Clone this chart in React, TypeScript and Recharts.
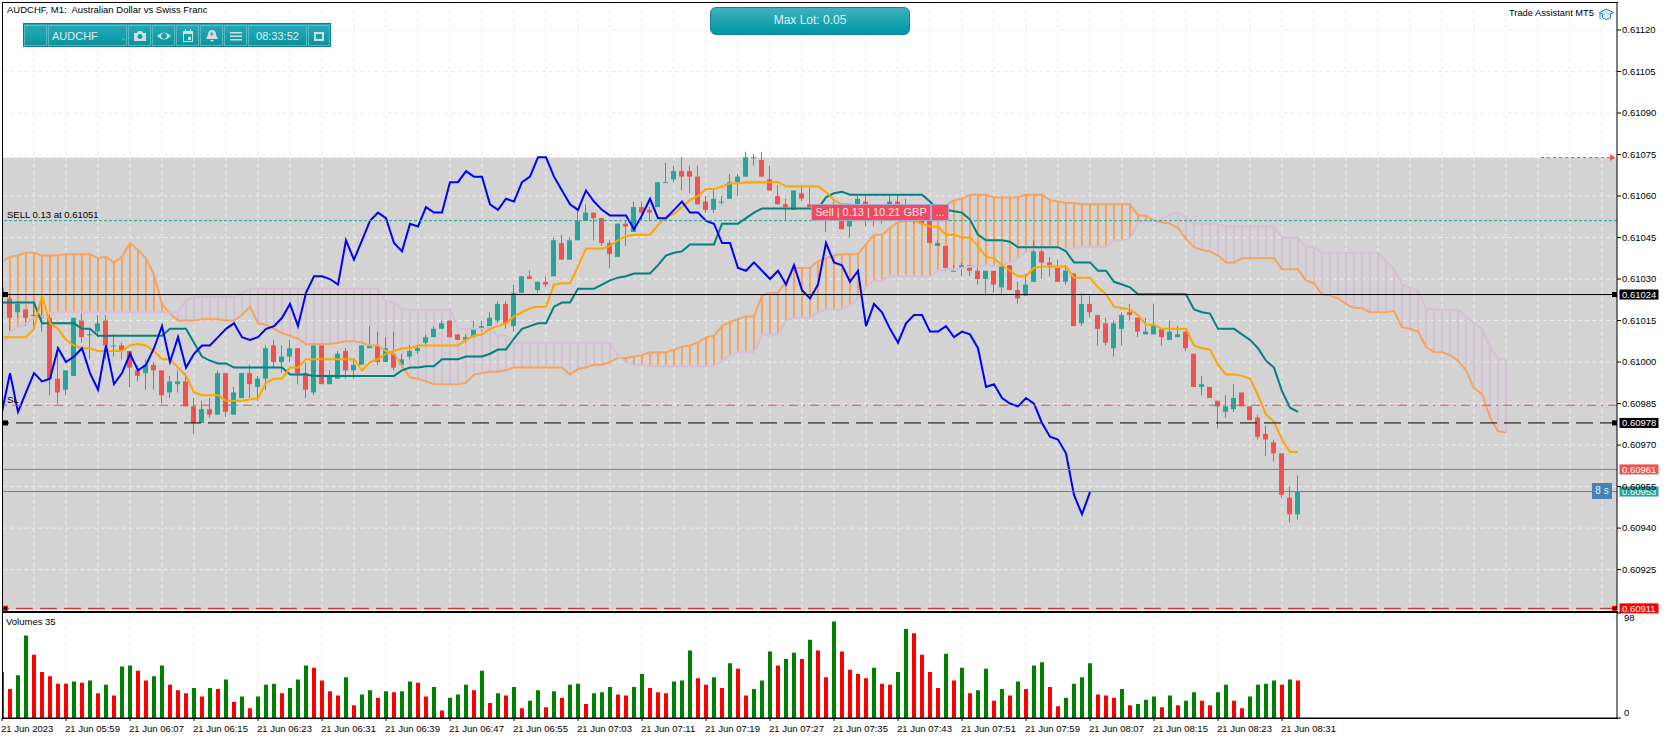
import React from 'react';
import {
  Bar,
  CartesianGrid,
  Cell,
  ComposedChart,
  Line,
  ReferenceArea,
  ReferenceDot,
  ReferenceLine,
  XAxis,
  YAxis,
} from 'recharts';

// all price series are in points above 0.60900 (1 point = 0.00001)
const BASE = 0.609;

const open = [
  127, 123, 118, 119, 117, 116, 116, 94, 90, 95,
  115, 110, 111, 115, 106, 106, 104, 97, 96, 99,
  97, 89, 92, 93, 84, 78, 83, 81, 96, 81,
  87, 96, 91, 94, 106, 100, 102, 105, 96, 89,
  106, 92, 94, 104, 97, 99, 105, 106, 100, 103,
  99, 102, 104, 107, 109, 112, 115, 110, 108, 109,
  112, 113, 115, 121, 113, 125, 131, 126, 129, 131,
  143, 137, 144, 151, 154, 152, 143, 138, 150, 147,
  156, 155, 156, 165, 166, 169, 169, 167, 158, 155,
  158, 159, 165, 167, 174, 173, 166, 160, 157, 155,
  161, 157, 156, 151, 152, 151, 149, 153, 158, 153,
  152, 155, 158, 156, 154, 152, 151, 142, 142, 133,
  134, 135, 133, 130, 133, 127, 135, 126, 124, 129,
  140, 136, 134, 129, 132, 114, 121, 117, 114, 105,
  112, 118, 116, 110, 110, 112, 108, 109, 111, 103,
  91, 91, 86, 82, 83, 89, 84, 80, 74, 71,
  67, 51, 45,
];
const high = [
  127, 125, 122, 119, 122, 124, 117, 105, 97, 116,
  118, 112, 117, 117, 110, 107, 104, 99, 101, 100,
  97, 95, 97, 96, 87, 86, 87, 97, 96, 91,
  96, 99, 95, 106, 108, 106, 108, 105, 100, 106,
  106, 97, 104, 105, 101, 106, 113, 111, 109, 111,
  103, 106, 106, 110, 113, 115, 115, 110, 110, 115,
  115, 118, 122, 122, 128, 131, 133, 129, 131, 145,
  146, 145, 155, 157, 154, 152, 144, 150, 151, 158,
  158, 156, 165, 172, 171, 174, 171, 171, 160, 162,
  160, 168, 168, 176, 175, 176, 171, 164, 159, 162,
  164, 163, 157, 155, 158, 153, 155, 160, 160, 156,
  156, 160, 160, 159, 155, 154, 153, 144, 142, 135,
  136, 135, 135, 133, 133, 135, 135, 129, 132, 144,
  142, 138, 137, 135, 132, 125, 124, 117, 116, 115,
  118, 121, 116, 116, 121, 112, 115, 113, 111, 103,
  95, 91, 86, 88, 92, 89, 84, 81, 77, 72,
  67, 55, 59,
];
const low = [
  124, 111, 116, 113, 112, 111, 88, 85, 88, 95,
  107, 101, 109, 101, 102, 101, 91, 93, 90, 90,
  85, 87, 89, 84, 74, 78, 80, 81, 80, 81,
  87, 87, 86, 90, 98, 96, 100, 92, 87, 88,
  92, 92, 94, 94, 94, 99, 105, 99, 100, 97,
  98, 101, 103, 106, 109, 112, 109, 108, 107, 109,
  111, 113, 114, 112, 111, 125, 130, 125, 127, 131,
  137, 137, 144, 151, 144, 142, 134, 138, 142, 147,
  151, 151, 156, 165, 165, 162, 161, 157, 154, 154,
  157, 159, 160, 167, 171, 167, 162, 157, 151, 155,
  158, 156, 152, 147, 151, 148, 145, 152, 149, 149,
  150, 154, 153, 153, 150, 150, 143, 142, 133, 133,
  131, 131, 128, 124, 125, 124, 126, 121, 124, 129,
  130, 131, 129, 128, 113, 113, 116, 106, 106, 102,
  106, 115, 109, 110, 110, 106, 108, 109, 104, 91,
  88, 87, 76, 80, 82, 84, 79, 72, 66, 64,
  51, 42, 43,
];
const close = [
  124, 116, 121, 116, 117, 117, 94, 89, 97, 116,
  109, 110, 114, 106, 106, 104, 98, 95, 99, 97,
  88, 93, 93, 84, 78, 83, 81, 96, 82, 89,
  96, 92, 94, 105, 100, 102, 105, 96, 90, 106,
  92, 95, 103, 97, 99, 106, 106, 100, 105, 98,
  101, 104, 105, 109, 112, 114, 109, 108, 109, 112,
  113, 116, 121, 114, 125, 131, 130, 129, 128, 144,
  137, 144, 151, 154, 152, 143, 139, 150, 149, 156,
  154, 154, 165, 165, 169, 167, 167, 157, 155, 159,
  158, 165, 167, 174, 174, 167, 162, 157, 156, 162,
  159, 156, 153, 153, 153, 148, 151, 159, 152, 152,
  155, 158, 154, 154, 151, 150, 143, 143, 134, 133,
  135, 133, 130, 133, 128, 135, 126, 123, 128, 140,
  136, 135, 129, 133, 113, 121, 118, 112, 107, 114,
  117, 117, 111, 111, 113, 109, 111, 110, 105, 91,
  92, 87, 84, 84, 87, 84, 79, 73, 72, 67,
  52, 45, 53,
];

const tenkan = [
  109, 109, 109, 109, 112, 124, 114, 112, 108, 106,
  105, 105, 104, 104, 104, 104, 106, 106.5, 106, 104,
  101, 101, 98, 95, 89, 88, 88, 88, 86, 86,
  86, 86.5, 87, 92.5, 94, 94, 98, 98, 101, 101,
  101, 101, 101, 101, 101, 97, 100, 101, 103, 104,
  105, 105, 106, 106, 106, 106, 106, 106, 108, 109.5,
  110, 112, 113, 114, 116.5, 118, 119.5, 120, 120, 128,
  128.5, 128.5, 134.5, 141, 141, 141, 142, 144, 145.5, 146,
  146, 146, 149.5, 152.5, 153.5, 156, 158.5, 160, 162.5, 162.5,
  163.5, 164.5, 164.5, 165, 165, 165, 165, 165, 163.5, 163.5,
  163.5, 163.5, 163.5, 161.5, 158.5, 157, 157, 156, 156, 155,
  155, 154, 153, 152, 151, 150, 149, 149, 146, 146,
  145, 145, 142, 138, 137.5, 135, 133, 131, 131, 134,
  134.5, 134.5, 134.5, 134.5, 130.5, 130.5, 130.5, 127, 124.5, 120,
  119.5, 119, 117, 113.5, 113.5, 112, 112, 112, 112, 106,
  105, 104.5, 99, 95.5, 95.5, 95, 94, 88, 81, 78.5,
  72, 67.5, 67.5,
];
const kijun = [
  121.5, 121.5, 121.5, 121.5, 121.5, 114, 114, 114, 114, 114,
  112, 112, 109.5, 109.5, 109.5, 109.5, 109.5, 109.5, 109.5, 109.5,
  109.5, 112, 112, 112, 107, 102, 100.5, 99.5, 99.5, 98,
  98, 98, 98, 98, 98, 98, 95.5, 95.5, 95.5, 95,
  95, 95, 95, 95, 95, 95, 95, 95, 95, 95,
  97, 98, 98, 98.5, 98.5, 101, 101, 101, 102, 102,
  102, 103, 104.5, 104.5, 108.5, 112, 113, 114, 114, 120,
  121.5, 121.5, 126.5, 126.5, 126.5, 128, 129.5, 130.5, 131, 132,
  132, 132, 135, 138.5, 139.5, 140, 142.5, 142.5, 142.5, 142.5,
  150, 150, 150, 152, 154, 155.5, 155.5, 155.5, 155.5, 155.5,
  155.5, 155.5, 155.5, 159.5, 161, 161.5, 160.5, 160.5, 160.5, 160.5,
  160.5, 160.5, 160.5, 160.5, 160.5, 160.5, 158, 155, 155, 154.5,
  154, 151.5, 146, 144, 144, 144, 143.5, 141.5, 141.5, 141.5,
  141.5, 141.5, 141.5, 140, 136, 136, 136, 133, 133, 129,
  128, 127, 124.5, 124.5, 124.5, 124.5, 124.5, 124.5, 124.5, 119,
  118, 117.5, 112, 112, 112, 110, 108, 105, 100.5, 98,
  89.5, 83.5, 82,
];
const chikou = [
  82, 96, 82, 89, 96, 93, 94, 105, 100, 102,
  105, 96, 90, 106, 92, 96, 103, 97, 99, 105,
  113, 100, 109, 98, 103, 106, 106, 109, 112, 114,
  109, 108, 109, 112, 113, 116, 121, 113, 125, 131,
  131, 130, 128, 144, 137, 144, 151, 154, 152, 143,
  140, 150, 149, 156, 154, 154, 165, 165, 169, 167,
  167, 157, 155, 159, 158, 165, 167, 174, 174, 167,
  162, 157, 155, 162, 158, 155, 153, 153, 153, 148,
  153, 159, 152, 152, 155, 158, 154, 154, 151, 150,
  143, 143, 134, 133, 136, 133, 130, 133, 128, 135,
  126, 123, 128, 143, 136, 135, 129, 133, 113, 121,
  118, 112, 107, 114, 117, 117, 111, 111, 113, 109,
  111, 110, 105, 91, 92, 87, 85, 84, 87, 85,
  78, 73, 72, 67, 52, 45, 53,
];
const spanA = [
  136.5, 138, 138.5, 139.5, 139.5, 138.5, 138.5, 138.5, 139, 139,
  139, 139, 137.5, 138, 136, 138, 143, 140.5, 137.5, 131.5,
  121, 117.5, 115, 115, 115, 115.5, 115.5, 115.5, 115, 115,
  117, 120, 114, 113.5, 112, 110.5, 109.5, 108.5, 106.5, 106.5,
  106.5, 106.5, 107, 107.5, 107.5, 107, 106, 106, 104, 103,
  98.5, 94.5, 94, 93, 92, 92, 92, 92, 92.5, 95.5,
  96, 96.5, 96.5, 97, 98, 98, 98, 98, 98, 98,
  98, 95.5, 97.5, 98, 99, 99, 100, 101.5, 101.5, 102,
  102.5, 103.5, 103.5, 103.5, 104.5, 105.5, 106, 107, 109, 109.5,
  113, 114.5, 115.5, 116.5, 116.5, 124, 125, 125, 129, 134,
  134, 134, 136.5, 137.5, 138.5, 139, 139, 139, 142.5, 146,
  146, 148.5, 150.5, 151, 151, 151.5, 154.5, 155, 156.5, 158.5,
  159, 160.5, 160.5, 160.5, 159.5, 159.5, 159.5, 159.5, 160.5, 160.5,
  160.5, 158.5, 158, 157.5, 157.5, 157, 157, 157, 157, 157,
  157, 157, 153, 153, 151, 150.5, 150, 148.5, 144.5, 141.5,
  140.5, 140, 138.5, 136, 136, 137.5, 137.5, 137.5, 137.5, 137.5,
  133.5, 133.5, 133.5, 129.5, 128.5, 124.5, 124, 123, 121, 119.5,
  119.5, 118, 118, 118, 118.5, 112.5, 112, 111, 105.5, 103.5,
  103.5, 102.5, 100.5, 97, 90.5, 88.5, 80, 75, 74.5,
];
const spanB = [
  105.5, 111, 112.5, 114, 116, 116.5, 117.5, 118, 118, 118,
  118, 118, 118, 118, 118, 118, 118, 118, 118, 118,
  118, 118, 118, 122.5, 123.5, 123.5, 123.5, 123.5, 123.5, 123.5,
  125, 126.5, 126.5, 126.5, 126.5, 126.5, 126.5, 126.5, 126.5, 126.5,
  126.5, 126.5, 126.5, 126.5, 126.5, 126.5, 126.5, 126.5, 122, 121.5,
  119, 119, 119, 119, 119, 119, 119, 112, 112, 112,
  112, 112, 109.5, 109.5, 107, 107, 107, 107, 107, 107,
  107, 107, 107, 107, 107, 107, 107, 102, 100, 99,
  99, 98.5, 98.5, 98.5, 98.5, 98.5, 98.5, 98.5, 98.5, 98.5,
  100.5, 102.5, 103.5, 103.5, 103.5, 110, 110, 110, 115, 116,
  116, 116, 118, 119, 119, 119, 120.5, 123, 127, 129.5,
  129.5, 131, 131, 131, 131, 131, 131, 133, 133.5, 133.5,
  134, 134.5, 134.5, 135, 134.5, 135, 136, 137.5, 140, 141,
  141, 141, 141, 141, 141, 141.5, 141.5, 141.5, 141.5, 144,
  144, 144.5, 150.5, 151, 151, 151.5, 153.5, 154, 152.5, 150,
  150, 150, 150, 149, 149, 149, 149, 149, 149, 149,
  145, 145, 145, 141.5, 141.5, 139.5, 139.5, 139.5, 139.5, 139.5,
  139.5, 139.5, 139.5, 136.5, 133.5, 128, 127, 125.5, 119.5, 119,
  119, 119, 119, 116.5, 114, 112, 105.5, 101, 101,
];
const volume = [
  43, 27, 40, 77, 59, 43, 39, 32, 32, 34, 33, 35, 23, 31, 21, 48, 49, 44, 35, 39,
  49, 31, 26, 23, 28, 20, 28, 27, 36, 15, 20, 9, 20, 31, 32, 23, 28, 36, 49, 47,
  35, 25, 21, 38, 12, 22, 26, 19, 25, 24, 25, 34, 33, 20, 29, 7, 19, 22, 31, 26,
  44, 14, 23, 21, 29, 9, 16, 26, 10, 25, 19, 31, 32, 13, 23, 24, 29, 22, 21, 29,
  41, 28, 24, 23, 34, 35, 63, 37, 31, 38, 28, 51, 46, 21, 27, 35, 62, 49, 55, 61,
  55, 73, 63, 38, 90, 62, 45, 41, 37, 47, 32, 31, 43, 83, 79, 59, 43, 28, 60, 35,
  47, 23, 26, 46, 16, 27, 21, 34, 27, 49, 52, 29, 11, 19, 32, 38, 51, 22, 21, 19,
  27, 12, 13, 17, 20, 10, 21, 12, 16, 24, 16, 12, 24, 31, 16, 9, 20, 31, 32, 35,
  31, 36, 35,
];

const priceTicks = [220, 205, 190, 175, 160, 145, 130, 115, 100, 85, 70, 55, 40, 25];
const timeTickBars = [
  0, 8, 16, 24, 32, 40, 48, 56, 64, 72, 80, 88, 96, 104, 112, 120, 128, 136, 144, 152, 160,
];
const timeTickLabels = [
  '21 Jun 2023', '21 Jun 05:59', '21 Jun 06:07', '21 Jun 06:15', '21 Jun 06:23', '21 Jun 06:31',
  '21 Jun 06:39', '21 Jun 06:47', '21 Jun 06:55', '21 Jun 07:03', '21 Jun 07:11', '21 Jun 07:19',
  '21 Jun 07:27', '21 Jun 07:35', '21 Jun 07:43', '21 Jun 07:51', '21 Jun 07:59', '21 Jun 08:07',
  '21 Jun 08:15', '21 Jun 08:23', '21 Jun 08:31',
];
const gridBars = Array.from({ length: 51 }, (_, k) => k * 4);
const volumeTicks = [0, 98];

const price = (p: number) => BASE + p / 100000;
const label5 = (v: number) => v.toFixed(5);

const rows = spanA.map((a, i) => ({
  i,
  open: i < open.length ? price(open[i]) : undefined,
  high: i < open.length ? price(high[i]) : undefined,
  low: i < open.length ? price(low[i]) : undefined,
  close: i < open.length ? price(close[i]) : undefined,
  wick: i < open.length ? [price(low[i]), price(high[i])] : undefined,
  tenkan: i < tenkan.length ? price(tenkan[i]) : undefined,
  kijun: i < kijun.length ? price(kijun[i]) : undefined,
  chikou: i < chikou.length ? price(chikou[i]) : undefined,
  spanA: price(a),
  spanB: price(spanB[i]),
  cloud: [price(Math.min(a, spanB[i])), price(Math.max(a, spanB[i]))],
}));
const volumeRows = volume.map((v, i) => ({ i, v }));

const UP = '#26a69a';
const DOWN = '#ef5350';
const FONT = '"Liberation Sans", Arial, sans-serif';
const X_DOMAIN: [number, number] = [0.125, 201.875];
const Y_DOMAIN: [number, number] = [price(10.4), price(229.75)];

const Candle = (props: any) => {
  const { x, y, width, height, payload } = props;
  if (payload.open === undefined) return null;
  const k = height / (payload.high - payload.low);
  const top = y + (payload.high - Math.max(payload.open, payload.close)) * k;
  const bottom = y + (payload.high - Math.min(payload.open, payload.close)) * k;
  const up = payload.close >= payload.open;
  const color = up ? UP : DOWN;
  const cx = x + width / 2;
  return (
    <g>
      <line x1={cx} x2={cx} y1={y} y2={y + height} stroke={color} strokeWidth={1} />
      <rect x={cx - 2.5} y={top} width={5} height={Math.max(bottom - top, 1)} fill={color} />
    </g>
  );
};

const PriceFlag = (props: any) => {
  const { viewBox, text, fill, color, square, squareStroke } = props;
  const right = viewBox.x + viewBox.width;
  const y = viewBox.y;
  return (
    <g>
      {square && <rect x={viewBox.x + 0.5} y={y - 2} width={4} height={4} fill="#000" stroke={squareStroke || '#000'} />}
      {square && <rect x={right - 4.5} y={y - 2} width={4} height={4} fill="#000" stroke={squareStroke || '#000'} />}
      <rect x={right + 2.5} y={y - 5} width={39} height={10} fill={fill} />
      <text x={right + 5} y={y + 3.5} fill={color} fontSize={9.5} fontFamily={FONT}>{text}</text>
    </g>
  );
};

const LineCaption = (props: any) => {
  const { viewBox, text, dx, dy } = props;
  return (
    <text x={viewBox.x + dx} y={viewBox.y + dy} fill="#000" fontSize={9.5} fontFamily={FONT}>{text}</text>
  );
};

const TriangleDot = (props: any) => {
  const { cx, cy } = props;
  return <path d={`M${cx - 3} ${cy - 3.5}L${cx + 2} ${cy}L${cx - 3} ${cy + 3.5}Z`} fill={DOWN} />;
};

const TimeTick = (props: any) => {
  const { x, y, index } = props;
  return (
    <text x={x - 1} y={y + 9} fill="#000" fontSize={9.5} fontFamily={FONT}>{timeTickLabels[index]}</text>
  );
};

const VolumeTick = (props: any) => {
  const { x, y, payload } = props;
  return (
    <text x={x + 1} y={payload.value === 0 ? y - 2 : y + 8} fill="#000" fontSize={9.5} fontFamily={FONT}>{payload.value}</text>
  );
};

const toolCell = (left: number, width: number, child: React.ReactNode, key: string) => (
  <div
    key={key}
    style={{
      position: 'absolute',
      left,
      top: 1,
      width,
      height: 21,
      border: '1px solid #58b8c4',
      boxSizing: 'border-box',
      color: '#e3eef0',
      fontFamily: FONT,
      fontSize: 11,
      lineHeight: '20px',
      textAlign: 'center',
    }}
  >
    {child}
  </div>
);

const Icon = ({ d }: { d: string }) => (
  <svg width={14} height={14} viewBox="0 0 14 14" style={{ marginTop: 3 }}>
    <path d={d} fill="#d8dcdc" fillRule="evenodd" />
  </svg>
);

const Toolbar = () => (
  <div
    style={{
      position: 'absolute',
      left: 23,
      top: 23,
      width: 308,
      height: 24,
      background: 'linear-gradient(#2aa9b6, #12a0ad 55%, #0f8f9c)',
      border: '1px solid #0f7c88',
      boxSizing: 'border-box',
    }}
  >
    {toolCell(0, 23, null, 'blank')}
    {toolCell(24, 79, <span style={{ display: 'block', textAlign: 'left', paddingLeft: 3 }}>AUDCHF<span style={{ marginLeft: 22, fontSize: 8, color: '#6cc0ca' }}>⌄</span></span>, 'symbol')}
    {toolCell(104, 23, <Icon d="M1 4h3l1-2h4l1 2h3v8H1zM7 5a2.5 2.5 0 1 0 .01 0z" />, 'camera')}
    {toolCell(128, 23, <Icon d="M0 7Q7 0 14 7Q7 14 0 7zM7 4a3 3 0 1 0 .01 0z" />, 'eye')}
    {toolCell(152, 23, <Icon d="M2 2h2V0h1v2h4V0h1v2h2v11H2zM3 5v7h8V5zM7 8h3v3H7z" />, 'calendar')}
    {toolCell(176, 23, <Icon d="M7 1q4 0 4 5l2 4H1l2-4q0-5 4-5zM5 11h4l-2 2zM6.3 3v1.5H5v1h1.3V7h1V5.500h1.300v-1H7.300V3z" />, 'bell')}
    {toolCell(200, 23, <Icon d="M1 3h12v1.500H1zM1 6.500h12V8H1zM1 10h12v1.500H1z" />, 'menu')}
    {toolCell(224, 59, '08:33:52', 'clock')}
    {toolCell(284, 22, <Icon d="M2 3h10v9H2zM4 5v5h6V5z" />, 'restore')}
  </div>
);

const GradCap = () => (
  <svg width={15} height={14} viewBox="0 0 15 14" style={{ position: 'absolute', left: 1599, top: 8 }}>
    <path d="M7.500 1L14.500 4.500L7.500 8L0.500 4.500Z" fill="#cfe4f5" stroke="#1c7cc4" />
    <path d="M3.500 6.500V10Q7.500 13 11.500 10V6.500" fill="#e8f2fa" stroke="#1c7cc4" />
    <path d="M1 5V11" stroke="#1c7cc4" />
  </svg>
);

const textStyle: React.CSSProperties = {
  position: 'absolute',
  fontFamily: FONT,
  fontSize: 9.5,
  color: '#000',
  whiteSpace: 'pre',
};

const App = () => (
  <div style={{ position: 'fixed', left: 0, top: 0, width: 1670, height: 739, background: '#fff', overflow: 'hidden' }}>
    <div style={{ position: 'absolute', left: 0, top: 0 }}>
      <ComposedChart
        width={1670}
        height={614}
        data={rows}
        margin={{ top: 3, right: 1, bottom: 4, left: 3 }}
        barGap={0}
      >
        <ReferenceArea
          y1={price(173.9)}
          y2={Y_DOMAIN[0]}
          fill="#d3d3d3"
          fillOpacity={1}
          stroke="none"
          ifOverflow="extendDomain"
          {...({ zIndex: -200 } as any)}
        />
        <CartesianGrid
          stroke="#ececec"
          strokeDasharray="4 3"
          horizontalValues={priceTicks.map(price)}
          verticalValues={gridBars}
        />
        <XAxis dataKey="i" type="number" domain={X_DOMAIN} allowDataOverflow hide />
        <XAxis xAxisId="cloud" dataKey="i" type="number" domain={X_DOMAIN} allowDataOverflow hide />
        <YAxis
          orientation="right"
          width={52}
          domain={Y_DOMAIN}
          allowDataOverflow
          ticks={priceTicks.map(price)}
          tickFormatter={label5}
          tick={{ fontSize: 9.5, fontFamily: FONT, fill: '#000' }}
          tickSize={4}
          tickMargin={1}
          axisLine={{ stroke: '#000' }}
          tickLine={{ stroke: '#000' }}
          interval={0}
        />
        <Bar xAxisId="cloud" dataKey="cloud" barSize={2} isAnimationActive={false}>
          {rows.map((r) => (
            <Cell key={r.i} fill={r.spanA >= r.spanB ? '#f4a460' : '#d8bfd8'} />
          ))}
        </Bar>
        <Bar dataKey="wick" barSize={5} shape={<Candle />} isAnimationActive={false} />
        <Line dataKey="spanA" stroke="#f4a460" strokeWidth={2} dot={false} isAnimationActive={false} />
        <Line dataKey="spanB" stroke="#d8bfd8" strokeWidth={2} dot={false} isAnimationActive={false} />
        <Line dataKey="kijun" stroke="#008080" strokeWidth={2} dot={false} isAnimationActive={false} />
        <Line dataKey="tenkan" stroke="#ffa500" strokeWidth={2} dot={false} isAnimationActive={false} />
        <Line dataKey="chikou" stroke="#0000ff" strokeWidth={2} dot={false} isAnimationActive={false} />

        <ReferenceLine
          y={price(124.4)}
          stroke="#000"
          label={<PriceFlag text="0.61024" fill="#000" color="#fff" square />}
        />
        <ReferenceLine
          y={price(151.1)}
          stroke="#20a090"
          strokeDasharray="3 2"
          label={<LineCaption text="SELL 0.13 at 0.61051" dx={4} dy={-3} />}
        />
        <ReferenceLine
          y={price(84.4)}
          stroke="#e05050"
          strokeDasharray="9 5 2 5"
          label={<LineCaption text="SL" dx={4} dy={-2} />}
        />
        <ReferenceLine
          y={price(78)}
          stroke="#000"
          strokeDasharray="17 7"
          label={<PriceFlag text="0.60978" fill="#000" color="#fff" square />}
        />
        <ReferenceLine
          y={price(61.2)}
          stroke="#e05555"
          label={<PriceFlag text="0.60961" fill={DOWN} color="#fff" />}
        />
        <ReferenceLine
          y={price(53.2)}
          stroke="#2f9d90"
          label={<PriceFlag text="0.60953" fill={UP} color="#fff" />}
        />
        <ReferenceLine
          y={price(11)}
          stroke="#e01010"
          strokeDasharray="17 7"
          label={<PriceFlag text="0.60911" fill="#ff0000" color="#fff" square squareStroke="#ff0000" />}
        />
        <ReferenceLine
          stroke={DOWN}
          strokeDasharray="3 3"
          segment={[
            { x: 192.4, y: price(173.9) },
            { x: 201.2, y: price(173.9) },
          ]}
        />
        <ReferenceDot x={201.4} y={price(173.9)} shape={<TriangleDot />} />
      </ComposedChart>
    </div>

    <div style={{ position: 'absolute', left: 0, top: 612 }}>
      <ComposedChart
        width={1670}
        height={127}
        data={volumeRows}
        margin={{ top: 1, right: 1, bottom: 0, left: 3 }}
      >
        <CartesianGrid stroke="#ececec" strokeDasharray="4 3" horizontal={false} verticalValues={timeTickBars} />
        <XAxis
          dataKey="i"
          type="number"
          domain={X_DOMAIN}
          allowDataOverflow
          ticks={timeTickBars}
          interval={0}
          height={21}
          tick={<TimeTick />}
          tickSize={3}
          axisLine={{ stroke: '#000' }}
          tickLine={{ stroke: '#000' }}
        />
        <YAxis
          orientation="right"
          width={52}
          domain={[0, 98]}
          ticks={volumeTicks}
          tick={<VolumeTick />}
          tickSize={4}
          axisLine={{ stroke: '#000' }}
          tickLine={{ stroke: '#000' }}
          interval={0}
        />
        <Bar dataKey="v" barSize={4} isAnimationActive={false}>
          {volumeRows.map((r) => (
            <Cell key={r.i} fill={r.i === 0 || r.v > volume[r.i - 1] ? '#008000' : '#ff0000'} />
          ))}
        </Bar>
      </ComposedChart>
    </div>

    {/* pane frames */}
    <div style={{ position: 'absolute', left: 2, top: 2, width: 1616, height: 610, border: '1px solid #000', borderRight: 'none', boxSizing: 'border-box', pointerEvents: 'none' }} />
    <div style={{ position: 'absolute', left: 2, top: 612, width: 1616, height: 107, border: '1px solid #000', borderRight: 'none', boxSizing: 'border-box', pointerEvents: 'none' }} />

    <div style={{ ...textStyle, left: 7, top: 4 }}>{'AUDCHF, M1:  Australian Dollar vs Swiss Franc'}</div>
    <div style={{ ...textStyle, left: 6, top: 616 }}>Volumes 35</div>
    <div style={{ ...textStyle, fontSize: 9.3, left: 1509, top: 8 }}>Trade Assistant MT5</div>
    <GradCap />
    <Toolbar />

    <div
      style={{
        position: 'absolute',
        left: 710,
        top: 7,
        width: 200,
        height: 28,
        boxSizing: 'border-box',
        borderRadius: 6,
        border: '1px solid #128290',
        background: 'linear-gradient(#40b1bd, #1aa3b0 55%, #0097a5)',
        color: '#dff2f4',
        fontFamily: FONT,
        fontSize: 12,
        lineHeight: '25px',
        textAlign: 'center',
      }}
    >
      Max Lot: 0.05
    </div>

    <div
      style={{
        position: 'absolute',
        left: 811,
        top: 204,
        width: 120,
        height: 17,
        boxSizing: 'border-box',
        background: '#ee4a62',
        border: '1px solid #a9a9cf',
        color: '#fbe9ec',
        fontFamily: FONT,
        fontSize: 11,
        lineHeight: '15px',
        textAlign: 'center',
      }}
    >
      Sell | 0.13 | 10.21 GBP
    </div>
    <div
      style={{
        position: 'absolute',
        left: 931,
        top: 204,
        width: 18,
        height: 17,
        boxSizing: 'border-box',
        background: '#ee4a62',
        border: '1px solid #a9a9cf',
        color: '#fbe9ec',
        fontFamily: FONT,
        fontSize: 11,
        lineHeight: '15px',
        textAlign: 'center',
      }}
    >
      ...
    </div>
    <div
      style={{
        position: 'absolute',
        left: 1592,
        top: 483,
        width: 20,
        height: 16,
        background: '#4682b4',
        color: '#e6eef5',
        fontFamily: FONT,
        fontSize: 10,
        lineHeight: '16px',
        textAlign: 'center',
      }}
    >
      8 s
    </div>
  </div>
);

export default App;
